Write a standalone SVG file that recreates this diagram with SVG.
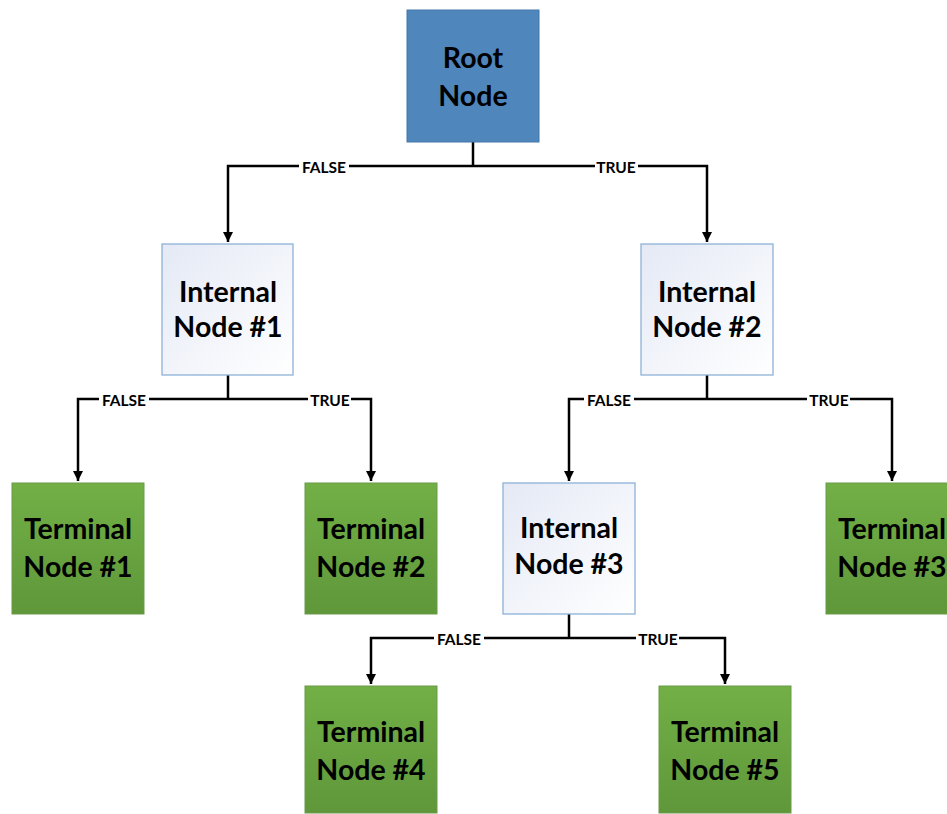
<svg xmlns="http://www.w3.org/2000/svg" width="947" height="814" viewBox="0 0 947 814">
<defs>
<linearGradient id="gInt" x1="0" y1="0" x2="1" y2="1">
<stop offset="0" stop-color="#e4e9f5"/>
<stop offset="1" stop-color="#ffffff"/>
</linearGradient>
<linearGradient id="gTerm" x1="0" y1="0" x2="0" y2="1">
<stop offset="0" stop-color="#72b046"/>
<stop offset="1" stop-color="#5f973a"/>
</linearGradient>
<marker id="arr" viewBox="0 0 10 10" refX="10" refY="5" markerWidth="4" markerHeight="4" orient="auto" markerUnits="strokeWidth">
<path d="M0,0 L10,5 L0,10 z" fill="#000"/>
</marker>
</defs>
<style>
.root{fill:#4f86bc;stroke:#4577a8;stroke-width:1}
.int{fill:url(#gInt);stroke:#8eb1d8;stroke-width:1.3}
.term{fill:url(#gTerm);stroke:#6a9a48;stroke-width:1}
.nt{font-family:Lato,"Liberation Sans",sans-serif;font-weight:bold;font-size:28.5px;fill:#000;text-anchor:middle}
.ln{fill:none;stroke:#000;stroke-width:2.5}
.lbl{font-family:Lato,"Liberation Sans",sans-serif;font-weight:bold;font-size:15.5px;fill:#000;text-anchor:middle;dominant-baseline:central}
.bg{fill:#fff}
</style>
<rect width="947" height="814" fill="#fff"/>
<g id="connectors">
<path class="ln" d="M473,142 V166"/>
<path class="ln" d="M473,166 H228 V242" marker-end="url(#arr)"/>
<path class="ln" d="M473,166 H707 V242" marker-end="url(#arr)"/>
<path class="ln" d="M228,375 V399"/>
<path class="ln" d="M228,399 H78 V481" marker-end="url(#arr)"/>
<path class="ln" d="M228,399 H371 V481" marker-end="url(#arr)"/>
<path class="ln" d="M707,375 V399"/>
<path class="ln" d="M707,399 H569 V481" marker-end="url(#arr)"/>
<path class="ln" d="M707,399 H892 V481" marker-end="url(#arr)"/>
<path class="ln" d="M569,614 V638"/>
<path class="ln" d="M569,638 H371 V684" marker-end="url(#arr)"/>
<path class="ln" d="M569,638 H725 V684" marker-end="url(#arr)"/>
<rect class="bg" x="299" y="157" width="50" height="18"/>
<text class="lbl" x="324" y="167">FALSE</text>
<rect class="bg" x="595" y="157" width="43" height="18"/>
<text class="lbl" x="616" y="167">TRUE</text>
<rect class="bg" x="99" y="390" width="50" height="18"/>
<text class="lbl" x="124" y="400">FALSE</text>
<rect class="bg" x="308" y="390" width="43" height="18"/>
<text class="lbl" x="330" y="400">TRUE</text>
<rect class="bg" x="584" y="390" width="50" height="18"/>
<text class="lbl" x="609" y="400">FALSE</text>
<rect class="bg" x="807" y="390" width="43" height="18"/>
<text class="lbl" x="829" y="400">TRUE</text>
<rect class="bg" x="434" y="629" width="50" height="18"/>
<text class="lbl" x="459" y="639">FALSE</text>
<rect class="bg" x="636" y="629" width="43" height="18"/>
<text class="lbl" x="658" y="639">TRUE</text>
</g>
<g id="root">
<rect class="root" x="407" y="10" width="132" height="132"/>
<text class="nt" x="473" y="68">Root</text>
<text class="nt" x="473" y="106">Node</text>
</g>
<g id="internal1">
<rect class="int" x="162" y="244" width="131" height="131"/>
<text class="nt" x="228" y="302">Internal</text>
<text class="nt" x="228" y="337">Node #1</text>
</g>
<g id="internal2">
<rect class="int" x="641" y="244" width="132" height="131"/>
<text class="nt" x="707" y="302">Internal</text>
<text class="nt" x="707" y="337">Node #2</text>
</g>
<g id="internal3">
<rect class="int" x="503" y="483" width="132" height="131"/>
<text class="nt" x="569" y="538">Internal</text>
<text class="nt" x="569" y="574">Node #3</text>
</g>
<g id="terminal1">
<rect class="term" x="12" y="483" width="132" height="131"/>
<text class="nt" x="78" y="539">Terminal</text>
<text class="nt" x="78" y="577">Node #1</text>
</g>
<g id="terminal2">
<rect class="term" x="305" y="483" width="132" height="131"/>
<text class="nt" x="371" y="539">Terminal</text>
<text class="nt" x="371" y="577">Node #2</text>
</g>
<g id="terminal3">
<rect class="term" x="826" y="483" width="132" height="131"/>
<text class="nt" x="892" y="539">Terminal</text>
<text class="nt" x="892" y="577">Node #3</text>
</g>
<g id="terminal4">
<rect class="term" x="305" y="686" width="132" height="127"/>
<text class="nt" x="371" y="742">Terminal</text>
<text class="nt" x="371" y="780">Node #4</text>
</g>
<g id="terminal5">
<rect class="term" x="659" y="686" width="132" height="127"/>
<text class="nt" x="725" y="742">Terminal</text>
<text class="nt" x="725" y="780">Node #5</text>
</g>
</svg>
